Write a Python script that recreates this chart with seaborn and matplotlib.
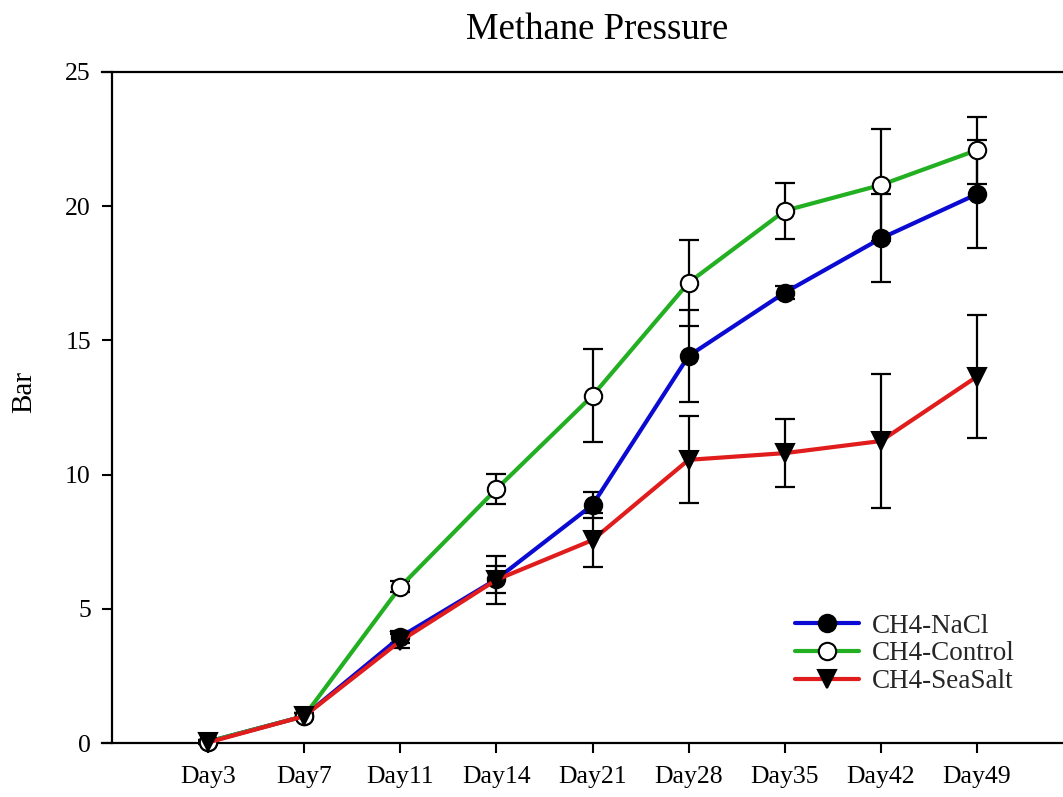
import numpy as np
import pandas as pd
import matplotlib
matplotlib.use("Agg")
import matplotlib.pyplot as plt
from matplotlib.lines import Line2D
import seaborn as sns

# Sampling days
days = ["Day3", "Day7", "Day11", "Day14", "Day21", "Day28", "Day35", "Day42", "Day49"]

# Methane pressure (bar), mean and error per treatment
nacl = [0.05, 1.0, 3.95, 6.10, 8.87, 14.42, 16.78, 18.80, 20.45]
nacl_err = [0.05, 0.10, 0.22, 0.50, 0.50, 1.70, 0.25, 1.64, 2.00]

control = [0.05, 1.0, 5.82, 9.46, 12.94, 17.15, 19.83, 20.79, 22.09]
control_err = [0.05, 0.10, 0.20, 0.56, 1.73, 1.60, 1.05, 2.10, 1.25]

seasalt = [0.02, 1.0, 3.80, 6.08, 7.56, 10.55, 10.80, 11.25, 13.65]
seasalt_err = [0.05, 0.10, 0.27, 0.90, 1.00, 1.62, 1.27, 2.50, 2.30]

series_names = ["CH4-NaCl", "CH4-Control", "CH4-SeaSalt"]
line_colors = {"CH4-NaCl": "#0a0ad2", "CH4-Control": "#22b022", "CH4-SeaSalt": "#e01c1c"}
marker_shapes = {"CH4-NaCl": "o", "CH4-Control": "o", "CH4-SeaSalt": "v"}
face_colors = {"CH4-NaCl": "black", "CH4-Control": "white", "CH4-SeaSalt": "black"}

means = {"CH4-NaCl": nacl, "CH4-Control": control, "CH4-SeaSalt": seasalt}
errors = {"CH4-NaCl": nacl_err, "CH4-Control": control_err, "CH4-SeaSalt": seasalt_err}

x_idx = np.arange(len(days))
df = pd.concat(
    [pd.DataFrame({"day": x_idx, "pressure": means[s], "err": errors[s], "series": s})
     for s in series_names],
    ignore_index=True,
)

sns.set_theme(style="white")
plt.rcParams["font.family"] = ["Liberation Serif", "DejaVu Serif"]

W, H = 1063, 797
fig = plt.figure(figsize=(W / 100, H / 100), dpi=100)

# Axes frame in pixels
ax_left, ax_right, ax_top, ax_bottom = 102, 1063, 72, 743
ax = fig.add_axes([ax_left / W, 1 - ax_bottom / H,
                   (ax_right - ax_left) / W, (ax_bottom - ax_top) / H])

step = 96.1  # pixels per category
x_min = -1 - 10 / step
x_max = x_min + (ax_right - ax_left) / step

# Error bars (drawn beneath lines and markers)
for s in series_names:
    sub = df[df["series"] == s]
    ax.errorbar(sub["day"], sub["pressure"], yerr=sub["err"], fmt="none",
                ecolor="black", elinewidth=1.6, capsize=7.5, capthick=1.6,
                zorder=2, clip_on=False)

sns.lineplot(data=df, x="day", y="pressure", hue="series", style="series",
             hue_order=series_names, style_order=series_names,
             palette=line_colors, markers=marker_shapes, dashes=False,
             linewidth=3.0, markersize=12.5, legend=False, ax=ax,
             errorbar=None, sort=False)

for line, s in zip(ax.lines[-3:], series_names):
    line.set_markerfacecolor(face_colors[s])
    line.set_markeredgecolor("black")
    line.set_markeredgewidth(1.5)
    line.set_zorder(3)
    line.set_clip_on(False)

ax.set_xlim(x_min, x_max)
ax.set_ylim(0, 25)
ax.set_xticks(x_idx)
ax.set_xticklabels(days)
ax.set_yticks([0, 5, 10, 15, 20, 25])
ax.set_xlabel("")

for side in ["top", "bottom", "left"]:
    ax.spines[side].set_visible(True)
    ax.spines[side].set_color("black")
    ax.spines[side].set_linewidth(1.6)
ax.spines["right"].set_visible(False)
ax.spines["left"].set_position(("data", -1))

ax.tick_params(axis="both", which="major", direction="out", length=7.2,
               width=1.5, color="black", labelcolor="black", labelsize=18.5)
ax.tick_params(axis="x", pad=9, bottom=True, top=False)
ax.tick_params(axis="y", pad=8, left=True, right=False)

ax.set_ylabel("Bar", fontsize=21, color="black")
ax.yaxis.set_label_coords((37 - ax_left) / (ax_right - ax_left),
                          (ax_bottom - 392) / (ax_bottom - ax_top))

fig.text(597 / W, 1 - 39 / H, "Methane Pressure", ha="center", va="baseline",
         fontsize=26.5, color="black")

handles = [
    Line2D([], [], color=line_colors[s], linewidth=3.0, marker=marker_shapes[s],
           markersize=12.5, markerfacecolor=face_colors[s],
           markeredgecolor="black", markeredgewidth=1.5)
    for s in series_names
]
ax.legend(handles, series_names, loc="center left",
          bbox_to_anchor=(795 / W, 1 - 654 / H), bbox_transform=fig.transFigure,
          frameon=False, fontsize=19.5, handlelength=2.35, handletextpad=0.5,
          labelspacing=0.1, borderpad=0, borderaxespad=0)

fig.savefig("out.png", dpi=100, facecolor="white")
